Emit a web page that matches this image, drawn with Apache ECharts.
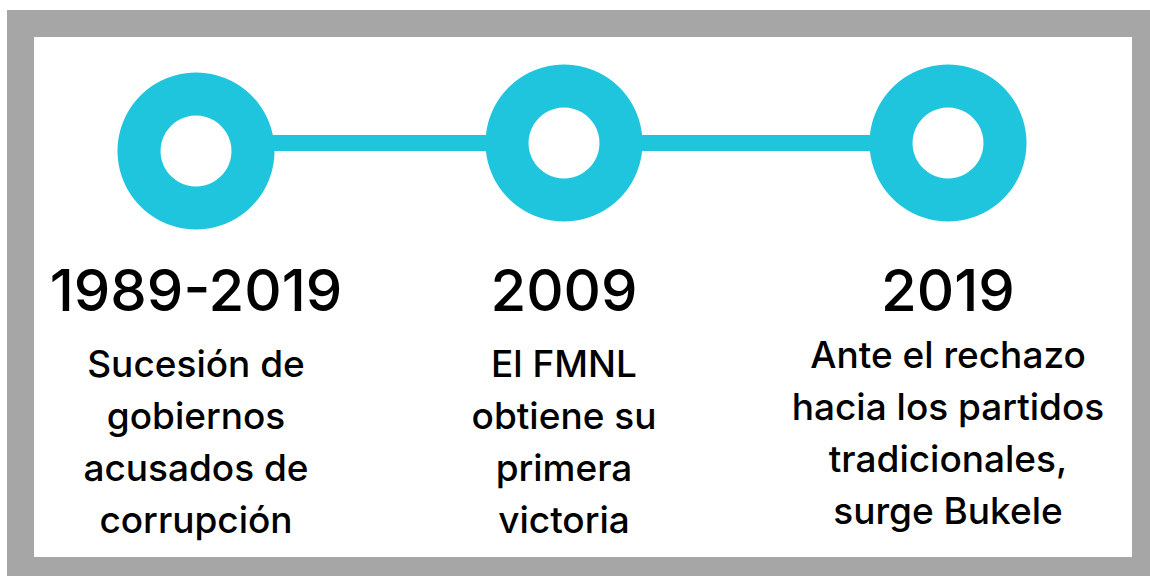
<!DOCTYPE html>
<html>
<head>
<meta charset="utf-8">
<script src="https://cdn.jsdelivr.net/npm/echarts@6/dist/echarts.min.js"></script>
<style>
  html, body { margin: 0; padding: 0; background: #fff; }
  #main { width: 1150px; height: 576px; }
</style>
</head>
<body>
<div id="main"></div>
<script>
// hitos de la línea de tiempo
const years = ['1989-2019', '2009', '2019'];
const descriptions = [
  'Sucesión de\ngobiernos\nacusados de\ncorrupción',
  'El FMNL\nobtiene su\nprimera\nvictoria',
  'Ante el rechazo\nhacia los partidos\ntradicionales,\nsurge Bukele'
];
// posiciones (px)
const posX = [196, 564, 948];
const circleY = [151, 143, 143];
const lineY = [143, 143, 143];
const yearY = [290, 290, 290];
const descY = [441, 441, 432];

const CYAN = '#1fc5dd';

const chart = echarts.init(document.getElementById('main'), null, { renderer: 'svg' });

const option = {
  animation: false,
  backgroundColor: '#fff',
  grid: { left: 0, right: 0, top: 0, bottom: 0 },
  xAxis: { type: 'value', min: 0, max: 1150, show: false },
  yAxis: { type: 'value', min: 0, max: 576, inverse: true, show: false },
  graphic: [
    { type: 'rect', z: -10, shape: { x: 7, y: 10, width: 1143, height: 566 }, style: { fill: '#a6a6a6' } },
    { type: 'rect', z: -9, shape: { x: 34, y: 37, width: 1098, height: 520 }, style: { fill: '#fff' } }
  ],
  series: [
    {
      // línea que une los hitos
      type: 'line',
      data: [[posX[0], lineY[0]], [posX[2], lineY[2]]],
      symbol: 'none',
      lineStyle: { color: CYAN, width: 16 },
      z: 1
    },
    {
      type: 'scatter',
      data: posX.map((x, i) => [x, circleY[i]]),
      symbolSize: 157,
      itemStyle: { color: CYAN, opacity: 1 },
      z: 2
    },
    {
      type: 'scatter',
      data: posX.map((x, i) => [x, circleY[i]]),
      symbolSize: 71,
      itemStyle: { color: '#fff', opacity: 1 },
      z: 3
    },
    {
      // años
      type: 'scatter',
      data: posX.map((x, i) => ({ value: [x, yearY[i]], name: years[i] })),
      symbolSize: 0,
      itemStyle: { opacity: 1 },
      label: {
        show: true,
        position: 'inside',
        formatter: p => p.name,
        fontFamily: 'Inter',
        fontSize: 58,
        fontWeight: 500,
        color: '#000'
      },
      z: 4
    },
    {
      // descripciones
      type: 'scatter',
      data: posX.map((x, i) => ({ value: [x, descY[i]], name: descriptions[i] })),
      symbolSize: 0,
      itemStyle: { opacity: 1 },
      label: {
        show: true,
        position: 'inside',
        align: 'center',
        verticalAlign: 'middle',
        formatter: p => p.name,
        fontFamily: 'Inter',
        fontSize: 37,
        fontWeight: 500,
        lineHeight: 52,
        color: '#000'
      },
      z: 4
    }
  ]
};

chart.setOption(option);
</script>
</body>
</html>
